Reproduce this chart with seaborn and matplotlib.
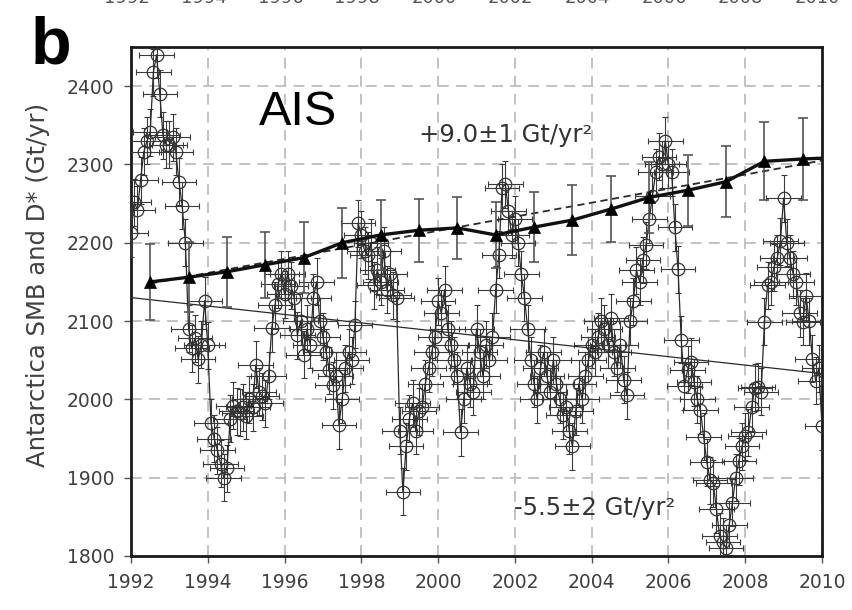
import numpy as np
import pandas as pd
import matplotlib
matplotlib.use("Agg")
import matplotlib.pyplot as plt
import seaborn as sns

# ---------------- data ----------------
# monthly SMB-type estimates (circles), Jan..Dec of each year
smb_1992 = [2212, 2252, 2242, 2280, 2316, 2330, 2341, 2418, 2440, 2390, 2337, 2325]
smb_1993 = [2325, 2335, 2316, 2278, 2247, 2200, 2090, 2065, 2078, 2051, 2070, 2126]
smb_1994 = [2069, 1970, 1950, 1935, 1918, 1900, 1912, 1975, 1992, 1985, 1983, 1990]
smb_1995 = [1979, 2000, 1990, 2044, 2010, 2004, 1995, 2030, 2091, 2120, 2147, 2160]
smb_1996 = [2134, 2160, 2145, 2130, 2082, 2100, 2057, 2090, 2070, 2130, 2150, 2100]
smb_1997 = [2080, 2060, 2037, 2018, 2030, 1967, 2000, 2040, 2060, 2050, 2095, 2225]
smb_1998 = [2210, 2190, 2184, 2200, 2146, 2165, 2150, 2190, 2140, 2160, 2133, 2130]
smb_1999 = [1960, 1882, 1940, 1975, 1995, 1960, 1985, 1990, 2020, 2040, 2060, 2080]
smb_2000 = [2125, 2110, 2140, 2090, 2070, 2050, 2030, 1958, 2000, 2040, 2020, 2010]
smb_2001 = [2090, 2060, 2030, 2070, 2050, 2080, 2140, 2185, 2270, 2275, 2240, 2210]
smb_2002 = [2230, 2200, 2160, 2130, 2090, 2050, 2020, 2000, 2040, 2060, 2030, 2010]
smb_2003 = [2050, 2020, 2000, 1980, 1990, 1960, 1940, 1985, 2020, 2000, 2030, 2050]
smb_2004 = [2070, 2060, 2080, 2100, 2090, 2070, 2104, 2060, 2040, 2070, 2025, 2005]
smb_2005 = [2100, 2125, 2165, 2150, 2178, 2197, 2230, 2260, 2290, 2310, 2300, 2330]
smb_2006 = [2300, 2290, 2220, 2166, 2076, 2017, 2038, 2048, 2022, 2000, 1986, 1952]
smb_2007 = [1920, 1897, 1893, 1860, 1825, 1818, 1810, 1840, 1868, 1900, 1921, 1940]
smb_2008 = [1953, 1958, 1990, 2015, 2016, 2010, 2099, 2146, 2150, 2169, 2180, 2202]
smb_2009 = [2257, 2200, 2180, 2160, 2150, 2110, 2099, 2132, 2100, 2052, 2024, 2040]
smb_2010 = [1966]
smb_yerr = 30      # Gt/yr
smb_xerr = 0.45    # yr

# annual D* estimates (triangles)
dstar_time = [1992.5, 1993.5, 1994.5, 1995.5, 1996.5, 1997.5, 1998.5, 1999.5, 2000.5,
              2001.5, 2002.5, 2003.5, 2004.5, 2005.5, 2006.5, 2007.5, 2008.5, 2009.5]
dstar_values = [2150, 2156, 2163, 2172, 2181, 2200, 2210, 2216, 2219,
                2210, 2220, 2229, 2243, 2258, 2267, 2278, 2304, 2307]
dstar_err = [48, 45, 45, 42, 45, 45, 45, 40, 40, 42, 45, 45, 42, 45, 45, 45, 50, 52]
dstar_line_end_time = [2010.0]
dstar_line_end_value = [2308]

# linear trend lines
trend_d_time = [1992.5, 2010.0]
trend_d_values = [2148, 2305]
trend_smb_time = [1992.0, 2010.0]
trend_smb_values = [2130, 2033]

x_ticks = [1992, 1994, 1996, 1998, 2000, 2002, 2004, 2006, 2008, 2010]
y_ticks = [1800, 1900, 2000, 2100, 2200, 2300, 2400]

# ---------------- build tables ----------------
smb_values = (smb_1992 + smb_1993 + smb_1994 + smb_1995 + smb_1996 + smb_1997 +
              smb_1998 + smb_1999 + smb_2000 + smb_2001 + smb_2002 + smb_2003 +
              smb_2004 + smb_2005 + smb_2006 + smb_2007 + smb_2008 + smb_2009 + smb_2010)
smb = pd.DataFrame({"year": 1992 + np.arange(len(smb_values)) / 12.0,
                    "value": smb_values})
dstar = pd.DataFrame({"year": dstar_time, "value": dstar_values, "err": dstar_err})
dline = pd.DataFrame({"year": dstar_time + dstar_line_end_time,
                      "value": dstar_values + dstar_line_end_value})
trend_d = pd.DataFrame({"year": trend_d_time, "value": trend_d_values})
trend_s = pd.DataFrame({"year": trend_smb_time, "value": trend_smb_values})

# ---------------- figure ----------------
sns.set_theme(style="white")
plt.rcParams["font.family"] = ["DejaVu Sans"]

fig = plt.figure(figsize=(8.52, 6.10), dpi=100)
ax = fig.add_axes([131 / 852, 1 - 556 / 610, (822 - 131) / 852, (556 - 47) / 610])

dark = "#2a2a2a"

# circles with error bars
ax.errorbar(smb["year"], smb["value"], xerr=smb_xerr, yerr=smb_yerr, fmt="none",
            ecolor="#3a3a3a", elinewidth=0.8, capsize=2.2, capthick=0.8, zorder=3)
sns.lineplot(data=smb, x="year", y="value", ax=ax, sort=False, estimator=None,
             color=dark, linewidth=0.9, marker="o", markersize=9,
             markerfacecolor="none", markeredgecolor="#333333", markeredgewidth=0.9,
             zorder=4)

# trend lines
sns.lineplot(data=trend_s, x="year", y="value", ax=ax, color=dark, linewidth=0.9,
             zorder=5)
sns.lineplot(data=trend_d, x="year", y="value", ax=ax, color=dark, linewidth=1.3,
             linestyle=(0, (4, 2.5)), zorder=5)

# triangles with error bars
ax.errorbar(dstar["year"], dstar["value"], yerr=dstar["err"], fmt="none",
            ecolor="#555555", elinewidth=1.2, capsize=3.5, capthick=1.2, zorder=5)
sns.lineplot(data=dline, x="year", y="value", ax=ax, color="#111111", linewidth=2.4,
             zorder=6)
sns.scatterplot(data=dstar, x="year", y="value", ax=ax, marker="^", s=75,
                color="#000000", edgecolor="#000000", linewidth=0.5, zorder=7)

# axes styling
ax.set_xlim(1992, 2010)
ax.set_ylim(1800, 2450)
ax.set_xticks(x_ticks)
ax.set_yticks(y_ticks)
ax.grid(True, color="#bdbdbd", linestyle=(0, (6, 4)), linewidth=1.3, zorder=0)
ax.set_axisbelow(True)
for sp in ax.spines.values():
    sp.set_color("#1a1a1a")
    sp.set_linewidth(2.0)
ax.tick_params(axis="both", direction="out", length=5, width=1.0, color="#555555",
               labelsize=13.5, labelcolor="#404040", pad=7, bottom=True, left=True)
ax.set_xlabel("")
ax.set_ylabel("Antarctica SMB and D* (Gt/yr)", fontsize=17.5, color="#404040")
ax.yaxis.set_label_coords(-0.117, 0.532)

# annotations
ax.text(1996.35, 2366, "AIS", fontsize=35, family="Liberation Sans",
        ha="center", va="center", color="black")
ax.text(2001.77, 2337, "+9.0\u00b11 Gt/yr\u00b2", fontsize=17.5, color="#333333",
        ha="center", va="center")
ax.text(2004.08, 1861, "-5.5\u00b12 Gt/yr\u00b2", fontsize=17.5, color="#333333",
        ha="center", va="center")

fig.text(31 / 852, 1 - 63 / 610, "b", fontsize=48, fontweight="bold",
         family="Liberation Sans", ha="left", va="baseline", color="black")

# cut-off tick labels of the panel above
for i, lab in enumerate(x_ticks):
    fig.text((127 + i * 76.7) / 852, 1 - 3 / 610, str(lab), fontsize=13,
             color="#555555", ha="center", va="baseline")

fig.savefig("out.png", dpi=100)
